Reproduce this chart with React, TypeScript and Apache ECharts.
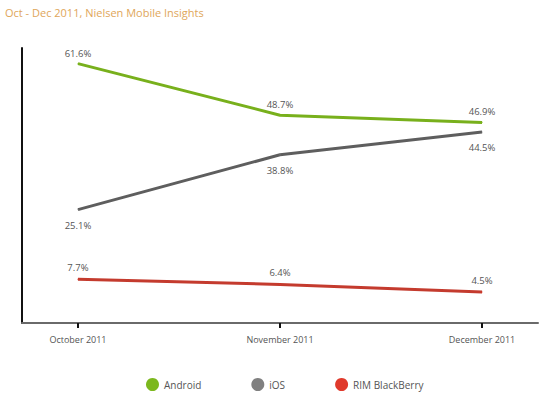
import React, { useEffect, useRef } from "react";
import * as echarts from "echarts";

const titleText = "Oct - Dec 2011, Nielsen Mobile Insights";
const categories = ["October 2011", "November 2011", "December 2011"];
const androidValues = [61.6, 48.7, 46.9];
const iosValues = [25.1, 38.8, 44.5];
const rimValues = [7.7, 6.4, 4.5];
const seriesNames = ["Android", "iOS", "RIM BlackBerry"];

const FONT = "'Open Sans', 'Noto Sans', sans-serif";

export default function App() {
  const ref = useRef<HTMLDivElement>(null);
  useEffect(() => {
    if (!ref.current) return;
    const chart = echarts.init(ref.current, undefined, { renderer: "svg" });
    const toPts = (vals: number[]) => vals.map((v, i) => [i, v]);
    const label = (pos: string, dist: number) => ({
      show: true,
      position: pos,
      distance: dist,
      formatter: (p: any) => Number(p.value[1]).toFixed(1) + "%",
      fontSize: 9.5,
      color: "#555",
      fontFamily: FONT,
    });
    chart.setOption({
      animation: false,
      backgroundColor: "#fff",
      title: {
        text: titleText,
        left: 0,
        top: 2,
        textStyle: { color: "#e0a65a", fontSize: 11, fontWeight: "normal", fontFamily: FONT },
      },
      legend: {
        left: 141,
        top: 373,
        icon: "circle",
        itemWidth: 13,
        itemHeight: 13,
        itemGap: 50,
        data: seriesNames,
        textStyle: { fontSize: 10, color: "#555", fontFamily: FONT },
      },
      grid: { left: 22, right: 19, top: 48, bottom: 74, containLabel: false },
      xAxis: {
        type: "value",
        min: -0.277,
        max: 2.277,
        splitLine: { show: false },
        axisLine: { show: true, onZero: false, lineStyle: { color: "#6a6a6a", width: 2 } },
        axisTick: { show: true, customValues: [0, 1, 2], length: 5, lineStyle: { color: "#111", width: 2 } },
        axisLabel: {
          customValues: [0, 1, 2],
          formatter: (v: number) => categories[Math.round(v)],
          fontSize: 9,
          color: "#555",
          margin: 12,
          fontFamily: FONT,
        },
      },
      yAxis: {
        type: "value",
        min: -3.25,
        max: 65.5,
        splitLine: { show: false },
        axisLine: { show: true, onZero: false, lineStyle: { color: "#111", width: 2 } },
        axisTick: { show: false },
        axisLabel: { show: false },
      },
      series: [
        {
          name: seriesNames[0],
          type: "line",
          data: toPts(androidValues),
          symbol: "circle",
          symbolSize: 1,
          showSymbol: true,
          itemStyle: { color: "#7cb81e" },
          lineStyle: { width: 3, color: "#78b01c" },
          label: label("top", 5),
        },
        {
          name: seriesNames[1],
          type: "line",
          data: toPts(iosValues),
          symbol: "circle",
          symbolSize: 1,
          showSymbol: true,
          itemStyle: { color: "#808080" },
          lineStyle: { width: 3, color: "#5e5e5e" },
          label: label("bottom", 10),
        },
        {
          name: seriesNames[2],
          type: "line",
          data: toPts(rimValues),
          symbol: "circle",
          symbolSize: 1,
          showSymbol: true,
          itemStyle: { color: "#e03a2c" },
          lineStyle: { width: 3, color: "#c43b2e" },
          label: label("top", 6),
        },
      ],
    });
    return () => chart.dispose();
  }, []);
  return <div ref={ref} style={{ width: 557, height: 397, position: "absolute", left: 0, top: 0 }} />;
}
